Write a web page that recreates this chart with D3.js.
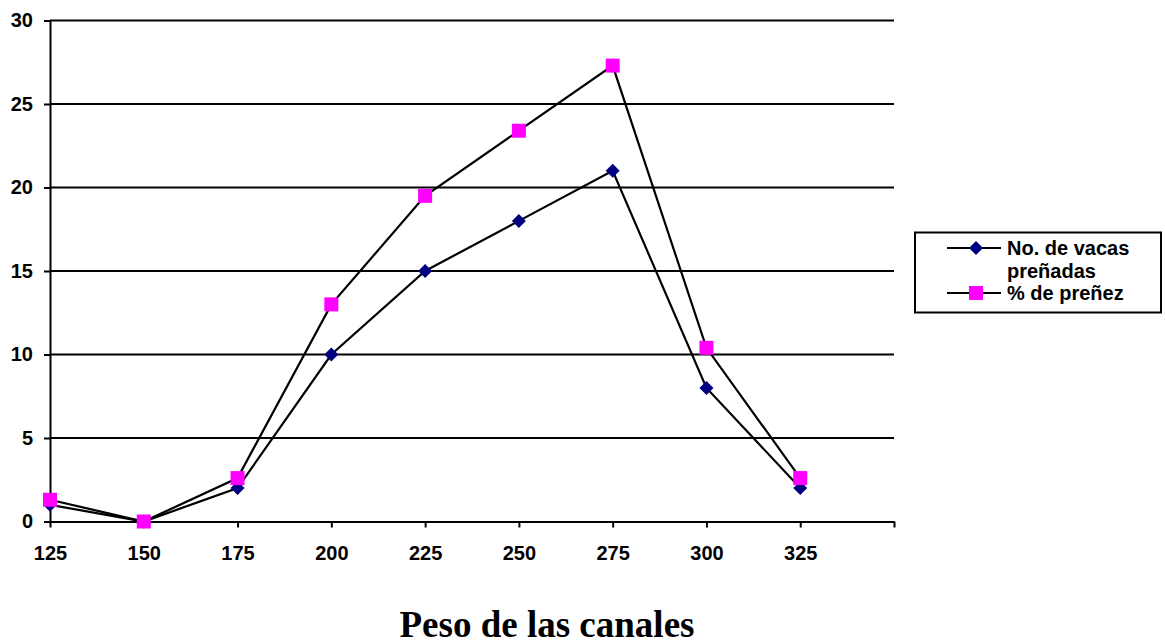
<!DOCTYPE html>
<html lang="es">
<head>
<meta charset="UTF-8">
<title>Peso de las canales</title>
<script src="https://d3js.org/d3.v7.min.js"></script>
<style>
    body { margin: 0; background: #fff; }
    svg { display: block; }
    .tick text { font-family: "Liberation Sans", Arial, sans-serif; font-weight: bold; font-size: 20px; fill: #000; }
    .legend text { font-family: "Liberation Sans", Arial, sans-serif; font-weight: bold; font-size: 20px; fill: #000; }
    .title { font-family: "Liberation Serif", "Times New Roman", serif; font-weight: bold; font-size: 37px; }
</style>
</head>
<body>
<svg width="1165" height="644"></svg>
<script>
    // chart data
    const pesos = [125, 150, 175, 200, 225, 250, 275, 300, 325];
    const vacasPrenadas = [1, 0, 2, 10, 15, 18, 21, 8, 2];
    const pctPrenez = [1.3, 0, 2.6, 13.0, 19.5, 23.4, 27.3, 10.4, 2.6];
    const yTicks = [0, 5, 10, 15, 20, 25, 30];
    const seriesNames = ["No. de vacas preñadas", "% de preñez"];

    const svg = d3.select("svg");

    // plot area
    const plotLeft = 50, plotRight = 894, plotTop = 20.5, plotBottom = 521.5;

    const x = d3.scaleLinear().domain([125, 350]).range([plotLeft, plotRight]);
    const y = d3.scaleLinear().domain([0, 30]).range([plotBottom, plotTop]);

    // horizontal gridlines
    svg.append("g")
        .selectAll("line")
        .data(yTicks.filter(d => d > 0))
        .enter().append("line")
        .attr("x1", plotLeft).attr("x2", plotRight)
        .attr("y1", d => y(d)).attr("y2", d => y(d))
        .attr("stroke", "#000").attr("stroke-width", 2);

    // y axis
    const yAxis = svg.append("g")
        .attr("transform", `translate(${plotLeft},0)`)
        .call(d3.axisLeft(y).tickValues(yTicks).tickSize(6).tickSizeOuter(0).tickPadding(11));
    yAxis.select(".domain").attr("stroke-width", 2);
    yAxis.selectAll(".tick line").attr("stroke-width", 2);

    // x axis: ticks at every 25, labels up to 325
    const xAxis = svg.append("g")
        .attr("transform", `translate(0,${plotBottom})`)
        .call(d3.axisBottom(x)
            .tickValues(pesos.concat([350]))
            .tickSize(6).tickSizeOuter(0).tickPadding(18)
            .tickFormat(d => d === 350 ? "" : d));
    xAxis.select(".domain").attr("stroke-width", 2);
    xAxis.selectAll(".tick line").attr("stroke-width", 2);

    const line = d3.line()
        .x((d, i) => x(pesos[i]))
        .y(d => y(d));

    // series lines
    svg.append("path")
        .datum(vacasPrenadas)
        .attr("fill", "none").attr("stroke", "#000").attr("stroke-width", 2.2)
        .attr("d", line);
    svg.append("path")
        .datum(pctPrenez)
        .attr("fill", "none").attr("stroke", "#000").attr("stroke-width", 2.2)
        .attr("d", line);

    const diamond = "M0,-7L7,0L0,7L-7,0Z";

    // markers
    svg.append("g")
        .selectAll("path")
        .data(vacasPrenadas)
        .enter().append("path")
        .attr("d", diamond)
        .attr("transform", (d, i) => `translate(${x(pesos[i])},${y(d)})`)
        .attr("fill", "#000080");

    svg.append("g")
        .selectAll("rect")
        .data(pctPrenez)
        .enter().append("rect")
        .attr("x", (d, i) => x(pesos[i]) - 7)
        .attr("y", d => y(d) - 7)
        .attr("width", 14).attr("height", 14)
        .attr("fill", "#ff00ff");

    // legend
    const legend = svg.append("g").attr("class", "legend");
    legend.append("rect")
        .attr("x", 915).attr("y", 232.5)
        .attr("width", 246).attr("height", 80)
        .attr("fill", "#fff").attr("stroke", "#000").attr("stroke-width", 2);

    legend.append("line").attr("x1", 947).attr("x2", 1001).attr("y1", 248).attr("y2", 248)
        .attr("stroke", "#000").attr("stroke-width", 2);
    legend.append("path").attr("d", diamond).attr("transform", "translate(976,248)").attr("fill", "#000080");
    legend.append("text").attr("x", 1007).attr("y", 255).text("No. de vacas");
    legend.append("text").attr("x", 1007).attr("y", 278).text("preñadas");

    legend.append("line").attr("x1", 947).attr("x2", 1001).attr("y1", 293).attr("y2", 293)
        .attr("stroke", "#000").attr("stroke-width", 2);
    legend.append("rect").attr("x", 969).attr("y", 286).attr("width", 14).attr("height", 14).attr("fill", "#ff00ff");
    legend.append("text").attr("x", 1007).attr("y", 300).text(seriesNames[1]);

    // axis title
    svg.append("text")
        .attr("class", "title")
        .attr("x", 547).attr("y", 637)
        .attr("text-anchor", "middle")
        .text("Peso de las canales");
</script>
</body>
</html>
